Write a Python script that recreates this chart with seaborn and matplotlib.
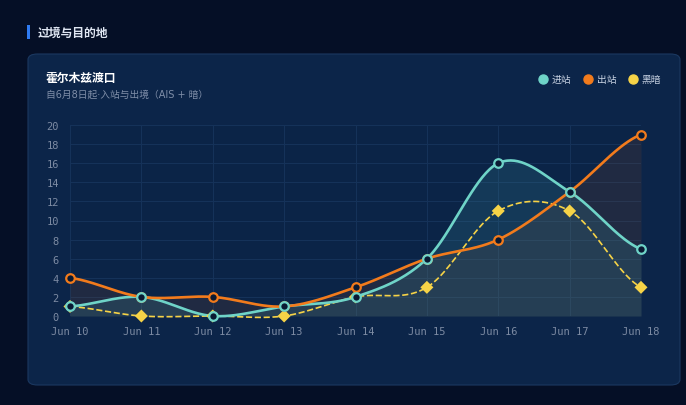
import numpy as np
import pandas as pd
import matplotlib
matplotlib.use("Agg")
import matplotlib.pyplot as plt
from matplotlib.patches import FancyBboxPatch, Rectangle
from matplotlib.lines import Line2D
import seaborn as sns

# ---- data ----
dates = ["Jun 10", "Jun 11", "Jun 12", "Jun 13", "Jun 14", "Jun 15", "Jun 16", "Jun 17", "Jun 18"]
inbound = [1, 2, 0, 1, 2, 6, 16, 13, 7]      # 进站
outbound = [4, 2, 2, 1, 3, 6, 8, 13, 19]     # 出站
dark = [1, 0, 0, 0, 2, 3, 11, 11, 3]         # 黑暗
y_ticks = [0, 2, 4, 6, 8, 10, 12, 14, 16, 18, 20]

series_names = ["进站", "出站", "黑暗"]
colors = {"进站": "#6fd4c8", "出站": "#f27b1c", "黑暗": "#f6d347"}

sns.set_theme(style="dark")
plt.rcParams["font.family"] = ["Noto Sans CJK SC", "DejaVu Sans"]

W, H = 686, 406
fig = plt.figure(figsize=(W / 100, H / 100), dpi=100)
fig.patch.set_facecolor("#050f26")


def fx(px):
    return px / W


def fy(py):
    return 1 - py / H


# card background
card = FancyBboxPatch((fx(28), fy(386)), fx(680) - fx(28), fy(55) - fy(386),
                      boxstyle="round,pad=0,rounding_size=0.014",
                      transform=fig.transFigure, facecolor="#0c2549",
                      edgecolor="#1b3860", linewidth=0.8, zorder=-2)
fig.patches.append(card)

# section header with accent bar
fig.patches.append(Rectangle((fx(27), fy(40)), fx(3), fy(26) - fy(40),
                             transform=fig.transFigure, facecolor="#2f7bf2",
                             edgecolor="none", zorder=-1))
fig.text(fx(38), fy(33), "过境与目的地", color="#dfe6f2", fontsize=8.5,
         fontweight="bold", va="center", ha="left")

# card title and subtitle
fig.text(fx(46), fy(78), "霍尔木兹渡口", color="#ffffff", fontsize=8.5,
         fontweight="bold", va="center", ha="left")
fig.text(fx(46), fy(95), "自6月8日起·入站与出境（AIS + 暗）", color="#7f8ea8",
         fontsize=7, va="center", ha="left", family=["DejaVu Sans", "Noto Sans CJK SC"])

# legend
leg_items = [(543, "进站"), (588, "出站"), (633, "黑暗")]
for px, name in leg_items:
    fig.add_artist(Line2D([fx(px)], [fy(80)], marker="o", markersize=6.5,
                          color=colors[name], linestyle="none",
                          transform=fig.transFigure))
    fig.text(fx(px + 9), fy(80), name, color="#c9d3e3", fontsize=7,
             va="center", ha="left")

# ---- plot area ----
left, right = fx(70), fx(641)
bottom, top = fy(317), fy(126)
ax = fig.add_axes([left, bottom, right - left, top - bottom])
ax.set_facecolor("#0b2447")
x = np.arange(len(dates))


def catmull(xs, ys, n=40, t=0.5):
    xs = np.asarray(xs, float)
    ys = np.asarray(ys, float)
    m = np.zeros_like(ys)
    m[1:-1] = (ys[2:] - ys[:-2]) * t
    m[0] = (ys[1] - ys[0]) * t
    m[-1] = (ys[-1] - ys[-2]) * t
    out_x, out_y = [], []
    for i in range(len(xs) - 1):
        s = np.linspace(0, 1, n, endpoint=(i == len(xs) - 2))
        h00 = 2 * s**3 - 3 * s**2 + 1
        h10 = s**3 - 2 * s**2 + s
        h01 = -2 * s**3 + 3 * s**2
        h11 = s**3 - s**2
        out_x.append(xs[i] + s * (xs[i + 1] - xs[i]))
        out_y.append(h00 * ys[i] + h10 * m[i] + h01 * ys[i + 1] + h11 * m[i + 1])
    return np.concatenate(out_x), np.concatenate(out_y)


values = {"进站": inbound, "出站": outbound, "黑暗": dark}
curves = {k: catmull(x, v) for k, v in values.items()}

rows = []
for name in series_names:
    cx, cy = curves[name]
    rows += [{"x": a, "y": b, "series": name} for a, b in zip(cx, cy)]
smooth = pd.DataFrame(rows)

# area fills
ax.fill_between(*curves["出站"], 0, color="#8a4a2a", alpha=0.17, linewidth=0, zorder=1)
ax.fill_between(*curves["进站"], 0, color="#3f9aa8", alpha=0.18, linewidth=0, zorder=1)

sub = smooth[smooth.series != "黑暗"]
sns.lineplot(data=sub, x="x", y="y", hue="series", palette=colors, ax=ax,
             linewidth=1.9, legend=False, sort=False, estimator=None, zorder=3)
sns.lineplot(data=smooth[smooth.series == "黑暗"], x="x", y="y", color=colors["黑暗"],
             ax=ax, linewidth=1.2, dashes=(3, 3), linestyle="--", legend=False,
             sort=False, estimator=None, zorder=2)
for line in ax.lines:
    line.set_clip_on(False)

pts = pd.DataFrame({"x": np.tile(x, 3),
                    "y": inbound + outbound + dark,
                    "series": np.repeat(series_names, len(x))})
sns.scatterplot(data=pts[pts.series == "黑暗"], x="x", y="y", marker="D", s=44,
                color=colors["黑暗"], edgecolor="none", ax=ax, zorder=4, legend=False,
                clip_on=False)
for name in ["出站", "进站"]:
    sns.scatterplot(data=pts[pts.series == name], x="x", y="y", marker="o", s=38,
                    facecolor="#0a1a33", edgecolor=colors[name], linewidth=1.6,
                    ax=ax, zorder=5, legend=False, clip_on=False)

ax.set_xlim(0, len(dates) - 1)
ax.set_ylim(0, 20)
ax.set_xticks(x)
ax.set_xticklabels(dates)
ax.set_yticks(y_ticks)
ax.set_yticklabels([str(v) for v in y_ticks])
ax.tick_params(axis="both", length=0, colors="#7d8ba3", labelsize=7.5)
ax.tick_params(axis="x", pad=7)
ax.tick_params(axis="y", pad=8)
for lab in ax.get_xticklabels() + ax.get_yticklabels():
    lab.set_family("DejaVu Sans Mono")
ax.grid(True, color="#16335a", linewidth=0.7)
ax.set_axisbelow(True)
ax.set_xlabel("")
ax.set_ylabel("")
for sp in ax.spines.values():
    sp.set_visible(False)

fig.savefig("out.png", dpi=100, facecolor=fig.get_facecolor())
